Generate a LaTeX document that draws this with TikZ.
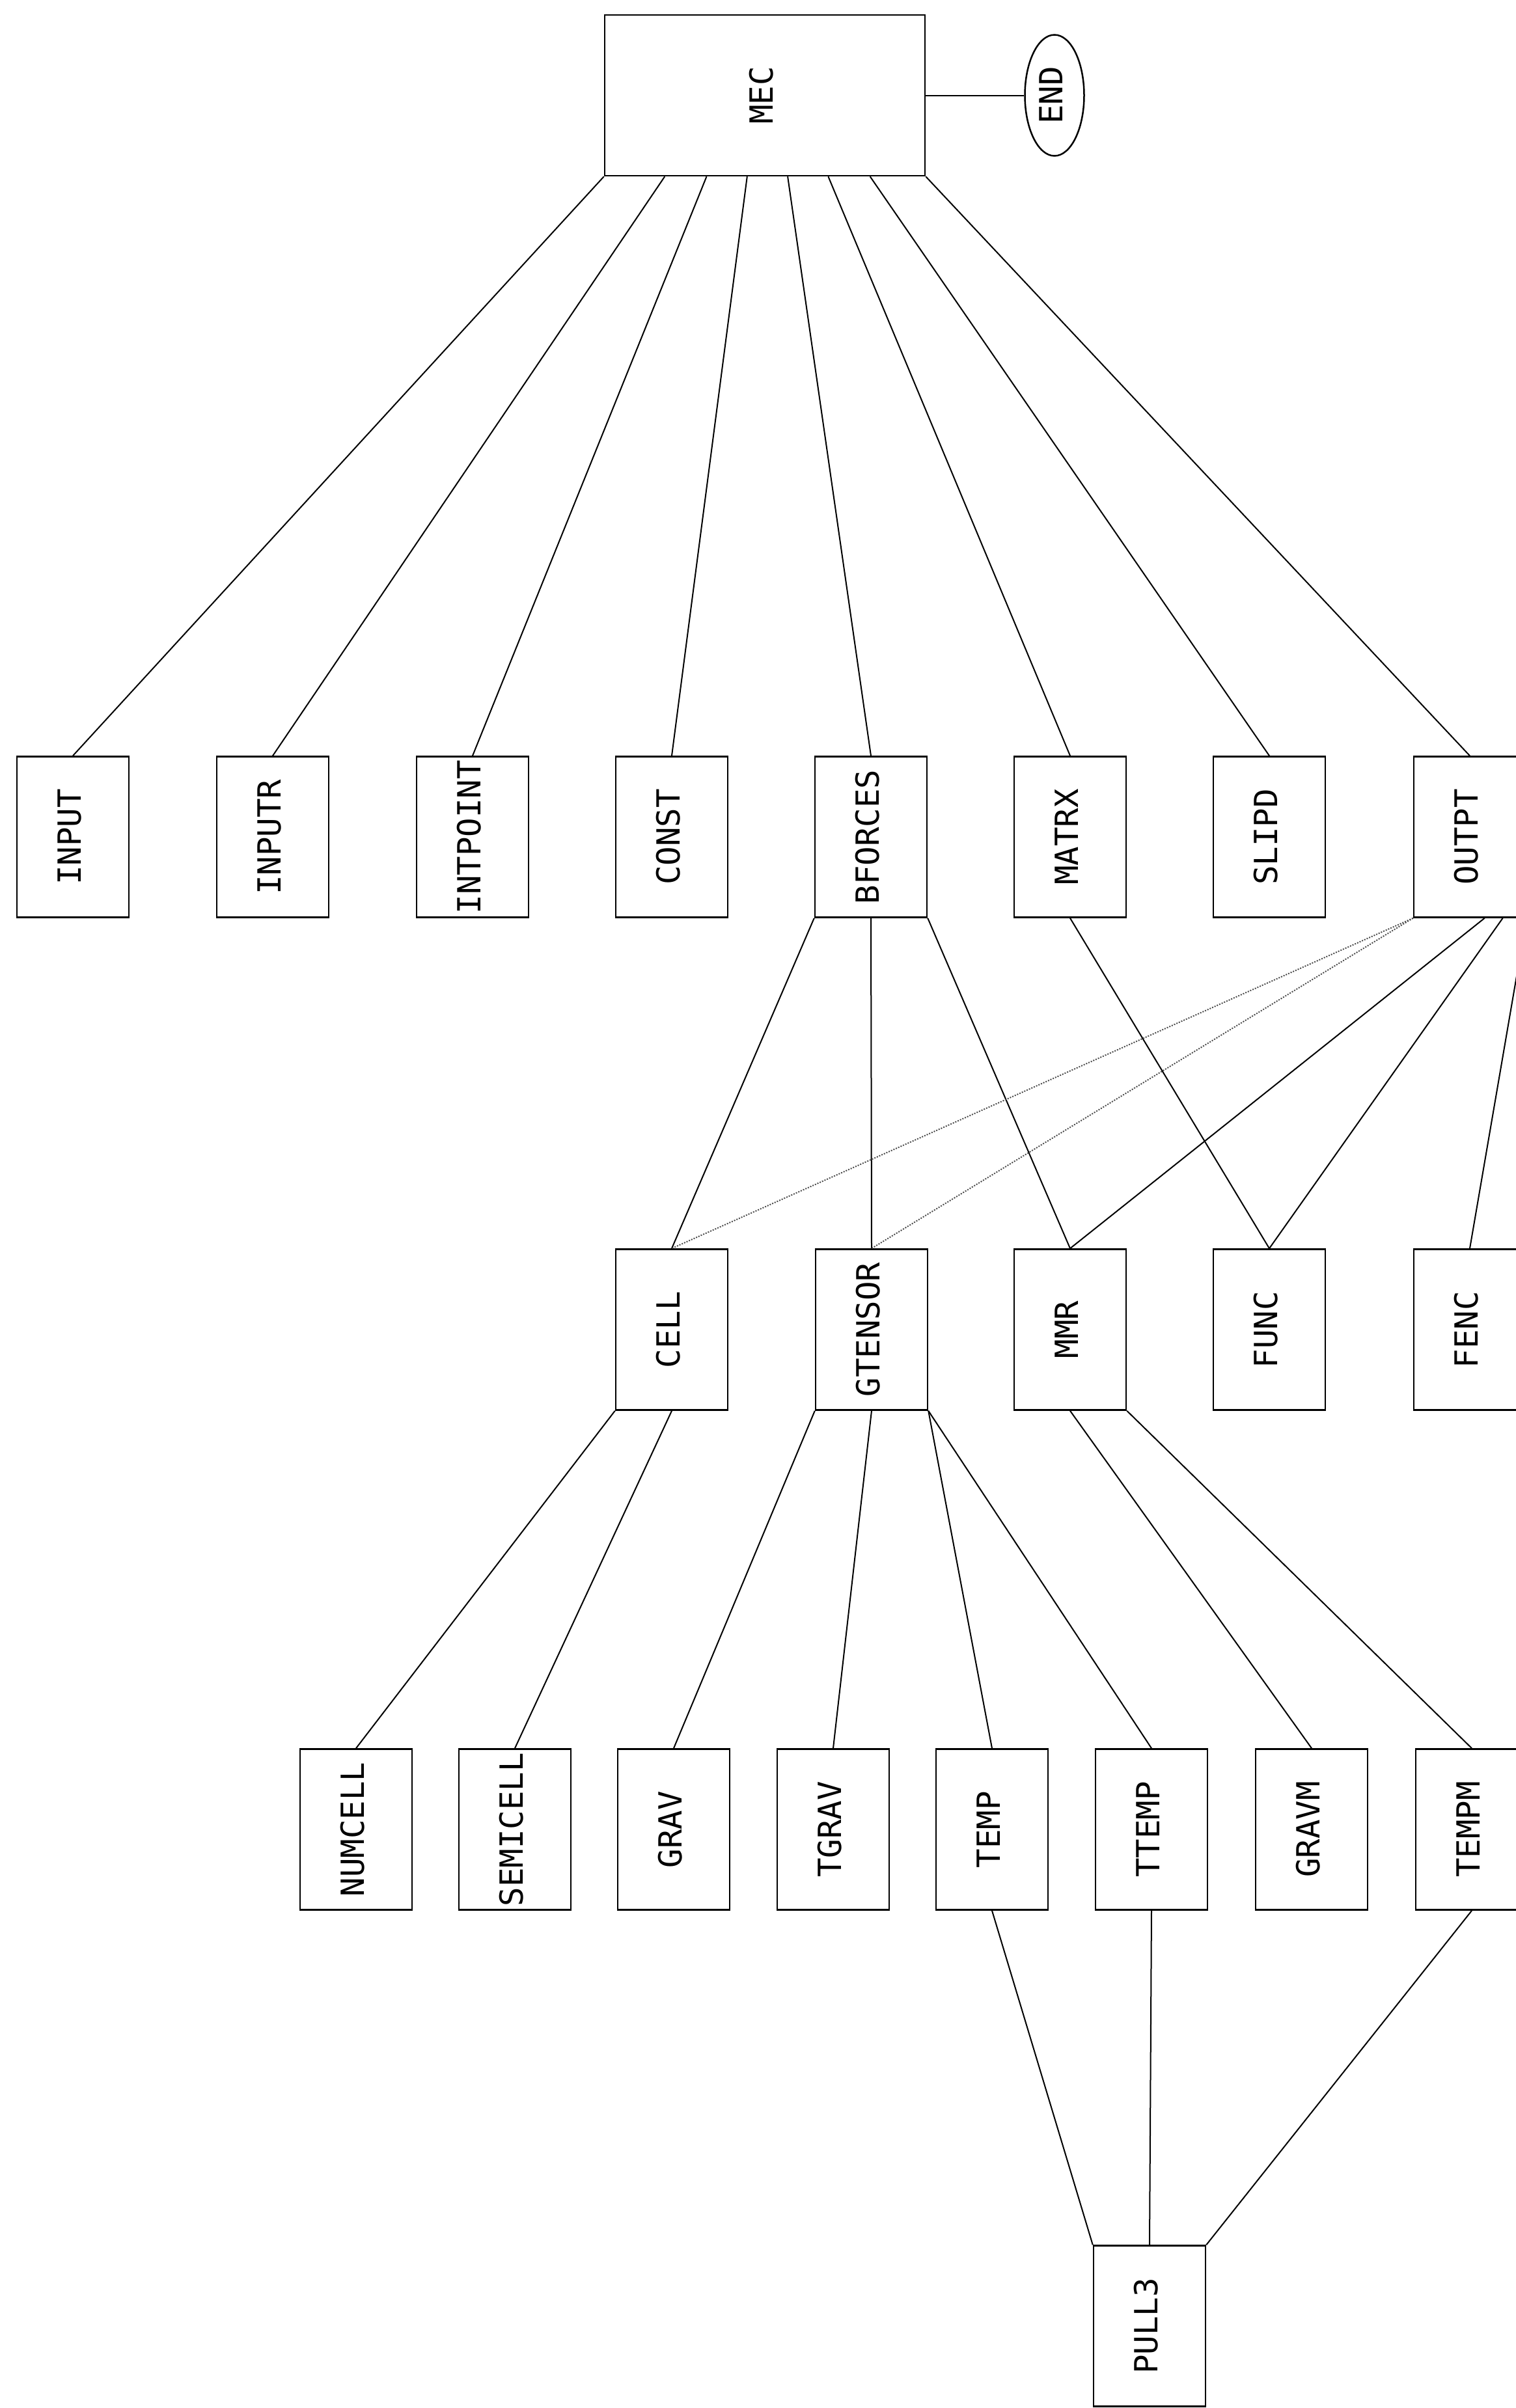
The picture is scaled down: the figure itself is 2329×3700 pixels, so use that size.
\documentclass[tikz,border=0pt]{standalone}
\usepackage{fontspec}
\usepackage{graphicx}
\setmonofont{DejaVu Sans Mono}
\usetikzlibrary{shapes.geometric,calc}
\newcommand\lblfont{\ttfamily\fontsize{49}{49}\selectfont}
\newcommand\vlbl[1]{\rotatebox{90}{\raisebox{5pt}[\height][\depth]{#1}}}
\begin{document}
\begin{tikzpicture}[x=1pt,y=-1pt,
  box/.style={draw, line width=2.5pt, rectangle, minimum width=172pt, minimum height=247pt, inner sep=0pt, font=\lblfont},
  ell/.style={draw, line width=2.5pt, ellipse, minimum width=91pt, minimum height=186pt, inner sep=0pt, font=\lblfont},
  conn/.style={line width=2pt},
  faint/.style={line width=2pt, dotted, black!70}]
\useasboundingbox (0,0) rectangle (2329,3700);
\clip (0,0) rectangle (2329,3700);
% top
\node[box, minimum width=492pt] (mec) at (1175,146.5) {\vlbl{MEC}};
\node[ell] (end) at (1620,146.5) {\vlbl{END}};
% row 1
\node[box] (input)    at (112,1286)  {\vlbl{INPUT}};
\node[box] (inputr)   at (419,1286)  {\vlbl{INPUTR}};
\node[box] (intpoint) at (726,1286)  {\vlbl{INTPOINT}};
\node[box] (const)    at (1032,1286) {\vlbl{CONST}};
\node[box] (bforces)  at (1338,1286) {\vlbl{BFORCES}};
\node[box] (matrx)    at (1644,1286) {\vlbl{MATRX}};
\node[box] (slipd)    at (1950,1286) {\vlbl{SLIPD}};
\node[box] (outpt)    at (2258,1286) {\vlbl{OUTPT}};
% row 2
\node[box] (cell)    at (1032,2043) {\vlbl{CELL}};
\node[box] (gtensor) at (1339,2043) {\vlbl{GTENSOR}};
\node[box] (mmr)     at (1644,2043) {\vlbl{MMR}};
\node[box] (func)    at (1950,2043) {\vlbl{FUNC}};
\node[box] (fenc)    at (2258,2043) {\vlbl{FENC}};
% row 3
\node[box] (numcell)  at (547,2811)  {\vlbl{NUMCELL}};
\node[box] (semicell) at (791,2811)  {\vlbl{SEMICELL}};
\node[box] (grav)     at (1035,2811) {\vlbl{GRAV}};
\node[box] (tgrav)    at (1280,2811) {\vlbl{TGRAV}};
\node[box] (temp)     at (1524,2811) {\vlbl{TEMP}};
\node[box] (ttemp)    at (1769,2811) {\vlbl{TTEMP}};
\node[box] (gravm)    at (2015,2811) {\vlbl{GRAVM}};
\node[box] (tempm)    at (2261,2811) {\vlbl{TEMPM}};
% bottom
\node[box] (pull3) at (1766,3574) {\vlbl{PULL3}};
% connectors
\draw[conn] (mec.east) -- (end.west);
\foreach \f/\n in {0/input, 0.189/inputr, 0.319/intpoint, 0.445/const, 0.571/bforces, 0.697/matrx, 0.827/slipd, 1/outpt}
  \draw[conn] ($(mec.south west)!\f!(mec.south east)$) -- (\n.north);
\draw[conn] (bforces.south west) -- (cell.north);
\draw[conn] (bforces.south) -- (gtensor.north);
\draw[conn] (bforces.south east) -- (mmr.north);
\draw[conn] (matrx.south) -- (func.north);
\draw[faint] (outpt.south west) -- (cell.north);
\draw[faint] (outpt.south west) -- (gtensor.north);
\draw[conn] ($(outpt.south west)!0.63!(outpt.south east)$) -- (mmr.north);
\draw[conn] ($(outpt.south west)!0.79!(outpt.south east)$) -- (func.north);
\draw[conn] (outpt.south east) -- (fenc.north);
\draw[conn] (cell.south west) -- (numcell.north);
\draw[conn] (cell.south) -- (semicell.north);
\draw[conn] (gtensor.south west) -- (grav.north);
\draw[conn] (gtensor.south) -- (tgrav.north);
\draw[conn] (gtensor.south east) -- (temp.north);
\draw[conn] (gtensor.south east) -- (ttemp.north);
\draw[conn] (mmr.south) -- (gravm.north);
\draw[conn] (mmr.south east) -- (tempm.north);
\draw[conn] (temp.south) -- (pull3.north west);
\draw[conn] (ttemp.south) -- (pull3.north);
\draw[conn] (tempm.south) -- (pull3.north east);
\end{tikzpicture}
\end{document}
